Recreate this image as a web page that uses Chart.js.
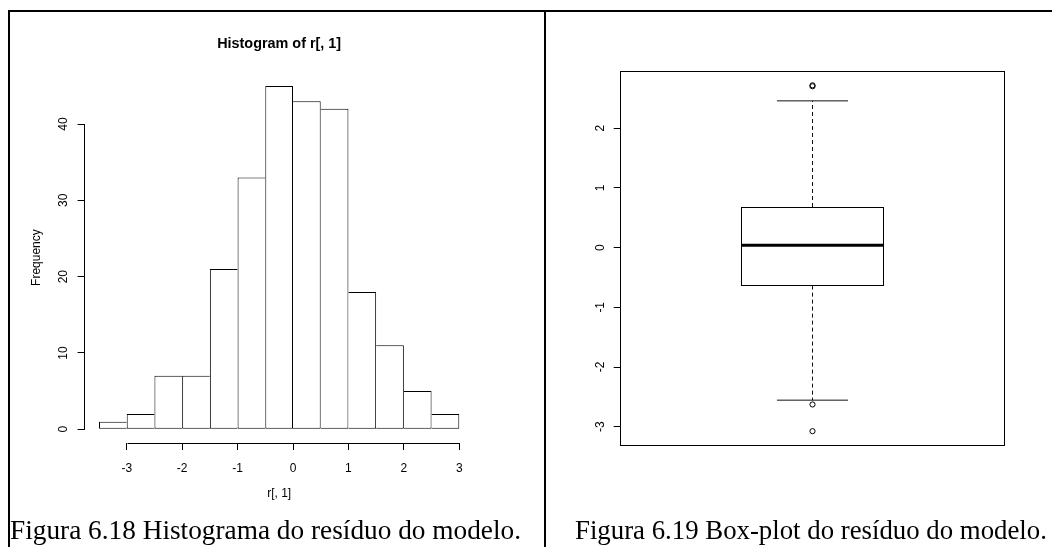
<!DOCTYPE html>
<html><head><meta charset="utf-8">
<script src="https://cdn.jsdelivr.net/npm/chart.js@4.4.1/dist/chart.umd.min.js"></script>
<style>
html,body{margin:0;padding:0;background:#fff;width:1052px;height:547px;overflow:hidden;position:relative;}
.line{position:absolute;background:#000;}
canvas{position:absolute;left:0;top:0;}
.cap{position:absolute;font-family:"Liberation Serif","Times New Roman",serif;font-size:27px;line-height:27px;white-space:nowrap;color:#000;}
</style></head><body>
<div class="line" style="left:8px;top:10px;width:1044px;height:2px"></div>
<div class="line" style="left:8px;top:10px;width:2px;height:537px"></div>
<div class="line" style="left:544px;top:10px;width:2px;height:537px"></div>
<div style="position:absolute;left:0;top:0;width:546px;height:547px"><canvas id="hist" width="546" height="547"></canvas></div>
<div style="position:absolute;left:546px;top:0;width:506px;height:547px"><canvas id="box" width="506" height="547"></canvas></div>
<div class="cap" style="left:10px;top:517px;font-size:27.3px">Figura 6.18 Histograma do resíduo do modelo.</div>
<div class="cap" style="left:575px;top:517px;font-size:26.8px">Figura 6.19 Box-plot do resíduo do modelo.</div>
<script>
// ---------- data ----------
const binEdges = [-3.5, -3, -2.5, -2, -1.5, -1, -0.5, 0, 0.5, 1, 1.5, 2, 2.5, 3];
const counts = [1, 2, 7, 7, 21, 33, 45, 43, 42, 18, 11, 5, 2];
const histXTicks = [-3, -2, -1, 0, 1, 2, 3];
const histYTicks = [0, 10, 20, 30, 40];
// lower whisker, Q1, median, Q3, upper whisker
const boxStats = [-2.555, -0.637, 0.037, 0.679, 2.456];
const outliers = [2.700, 2.716, -2.627, -3.074];
const boxYTicks = [-3, -2, -1, 0, 1, 2];

Chart.defaults.font.family = '"Liberation Sans", Arial, Helvetica, sans-serif';
Chart.defaults.font.size = 12;
Chart.defaults.color = '#000';

const ext = (lo, hi) => { const d = (hi - lo) * 0.04; return [lo - d, hi + d]; };

// ---------- histogram ----------
const [hxMin, hxMax] = ext(binEdges[0], binEdges[binEdges.length - 1]);
const [hyMin, hyMax] = ext(0, Math.max(...counts));
const barData = counts.map((c, i) => ({ x: (binEdges[i] + binEdges[i + 1]) / 2, y: c }));

const histAxes = {
  id: 'histAxes',
  afterDraw(chart) {
    const { ctx, scales: { x, y }, chartArea } = chart;
    ctx.save();
    ctx.strokeStyle = '#000'; ctx.lineWidth = 1;
    ctx.beginPath();
    const xl = Math.floor(chartArea.left) + 0.5;
    ctx.moveTo(xl, Math.round(y.getPixelForValue(histYTicks[0])) + 0.5);
    ctx.lineTo(xl, Math.round(y.getPixelForValue(histYTicks[histYTicks.length - 1])) + 0.5);
    const yb = Math.floor(chartArea.bottom) + 0.5;
    ctx.moveTo(Math.round(x.getPixelForValue(histXTicks[0])) + 0.5, yb);
    ctx.lineTo(Math.round(x.getPixelForValue(histXTicks[histXTicks.length - 1])) + 0.5, yb);
    ctx.stroke();
    ctx.restore();
  }
};

new Chart(document.getElementById('hist'), {
  type: 'bar',
  data: {
    datasets: [{
      data: barData,
      backgroundColor: '#fff',
      borderColor: '#000',
      borderSkipped: false,
      inflateAmount: 0,
      barPercentage: 1,
      categoryPercentage: 1,
      borderWidth: ctx => {
        const i = ctx.dataIndex, v = counts[i];
        const prev = i > 0 ? counts[i - 1] : -1;
        const next = i < counts.length - 1 ? counts[i + 1] : -1;
        return { top: 1, bottom: 1, left: v >= prev ? 1 : 0, right: v > next ? 1 : 0 };
      }
    }]
  },
  options: {
    responsive: false, animation: false, events: [],
    layout: { padding: { left: 0, right: 72.3, top: 0, bottom: 0 } },
    plugins: {
      legend: { display: false }, tooltip: { enabled: false },
      title: {
        display: true, text: 'Histogram of r[, 1]', fullSize: false,
        font: { size: 14.4, weight: 'bold' }, color: '#000',
        padding: { top: 34.9, bottom: 20.0 }
      }
    },
    scales: {
      x: {
        type: 'linear', min: hxMin, max: hxMax, offset: false,
        afterBuildTicks: s => { s.ticks = histXTicks.map(v => ({ value: v })); },
        afterFit: s => { s.height = 104; },
        grid: { offset: false, drawOnChartArea: false, drawTicks: true, tickLength: 7, color: '#000' },
        border: { display: false },
        ticks: { padding: 11, color: '#000', maxRotation: 0, autoSkip: false },
        title: { display: true, text: 'r[, 1]', color: '#000', padding: { top: 0, bottom: 45.8 } }
      },
      y: {
        type: 'linear', min: hyMin, max: hyMax,
        afterBuildTicks: s => { s.ticks = histYTicks.map(v => ({ value: v })); },
        afterFit: s => { s.width = 84.6; },
        grid: { drawOnChartArea: false, drawTicks: true, tickLength: 7, color: '#000' },
        border: { display: false },
        ticks: { padding: 7, color: '#000', minRotation: 90, maxRotation: 90, crossAlign: 'center', autoSkip: false },
        title: { display: true, text: 'Frequency', color: '#000', padding: { top: 29.3, bottom: 0 } }
      }
    }
  },
  plugins: [histAxes]
});

// ---------- box plot ----------
const boxPos = 1, boxHalf = 0.2, stapleHalf = 0.1;
const [bxMin, bxMax] = ext(boxPos - 0.5, boxPos + 0.5);
const allVals = boxStats.concat(outliers);
const [byMin, byMax] = ext(Math.min(...allVals), Math.max(...allVals));
const [lw, q1, med, q3, uw] = boxStats;

const boxFrame = {
  id: 'boxFrame',
  afterDatasetsDraw(chart) {
    // crisp outline of the box (from the bar element laid out by Chart.js)
    const { ctx } = chart;
    const el = chart.getDatasetMeta(0).data[0];
    const p = el.getProps(['x', 'y', 'base', 'width'], true);
    const l = Math.floor(p.x - p.width / 2) + 0.5, r = Math.floor(p.x + p.width / 2) + 0.5;
    const t = Math.floor(Math.min(p.y, p.base)) + 0.5, b = Math.floor(Math.max(p.y, p.base)) + 0.5;
    ctx.save();
    ctx.strokeStyle = '#000'; ctx.lineWidth = 1;
    ctx.strokeRect(l, t, r - l, b - t);
    ctx.restore();
  },
  afterDraw(chart) {
    const { ctx, chartArea: a } = chart;
    const l = Math.floor(a.left) + 0.5, t = Math.floor(a.top) + 0.5;
    const r = Math.floor(a.right) + 0.5, b = Math.floor(a.bottom) + 0.5;
    ctx.save();
    ctx.strokeStyle = '#000'; ctx.lineWidth = 1;
    ctx.strokeRect(l, t, r - l, b - t);
    ctx.restore();
  }
};

const seg = (x1, y1, x2, y2) => [{ x: x1, y: y1 }, { x: x2, y: y2 }];
const lineDs = (data, extra) => Object.assign({
  type: 'line', data, borderColor: '#000', borderWidth: 1, pointRadius: 0,
  borderCapStyle: 'butt', fill: false, tension: 0, order: 1
}, extra || {});

new Chart(document.getElementById('box'), {
  type: 'bar',
  data: {
    datasets: [
      {
        type: 'bar', data: [{ x: boxPos, y: [q1, q3] }],
        backgroundColor: '#fff', borderColor: '#000', borderWidth: 0,
        borderSkipped: false, inflateAmount: 0,
        categoryPercentage: 1, barPercentage: (2 * boxHalf) / (bxMax - bxMin), order: 3
      },
      lineDs(seg(boxPos, q3, boxPos, uw), { borderDash: [4, 3], borderColor: '#111' }),
      lineDs(seg(boxPos, q1, boxPos, lw), { borderDash: [4, 3], borderColor: '#111' }),
      lineDs(seg(boxPos - stapleHalf, uw, boxPos + stapleHalf, uw), { borderColor: '#111' }),
      lineDs(seg(boxPos - stapleHalf, lw, boxPos + stapleHalf, lw), { borderColor: '#111' }),
      lineDs(seg(boxPos - boxHalf, med, boxPos + boxHalf, med), { borderWidth: 3, order: 0 }),
      {
        type: 'scatter', data: outliers.map(v => ({ x: boxPos, y: v })),
        pointStyle: 'circle', pointRadius: 2.6, pointBorderWidth: 1,
        pointBackgroundColor: 'rgba(0,0,0,0)', pointBorderColor: '#000', showLine: false, order: 0
      }
    ]
  },
  options: {
    responsive: false, animation: false, events: [],
    layout: { padding: { left: 0, right: 47.7, top: 71.5, bottom: 102 } },
    plugins: { legend: { display: false }, tooltip: { enabled: false } },
    scales: {
      x: {
        type: 'linear', min: bxMin, max: bxMax, offset: false, display: false,
        afterBuildTicks: s => { s.ticks = [{ value: boxPos }]; },
        grid: { offset: false }
      },
      y: {
        type: 'linear', min: byMin, max: byMax,
        afterBuildTicks: s => { s.ticks = boxYTicks.map(v => ({ value: v })); },
        afterFit: s => { s.width = 74.7; },
        grid: { drawOnChartArea: false, drawTicks: true, tickLength: 7, color: '#000' },
        border: { display: false },
        ticks: { padding: 7.5, color: '#000', minRotation: 90, maxRotation: 90, crossAlign: 'center', autoSkip: false }
      }
    }
  },
  plugins: [boxFrame]
});
</script>
</body></html>
